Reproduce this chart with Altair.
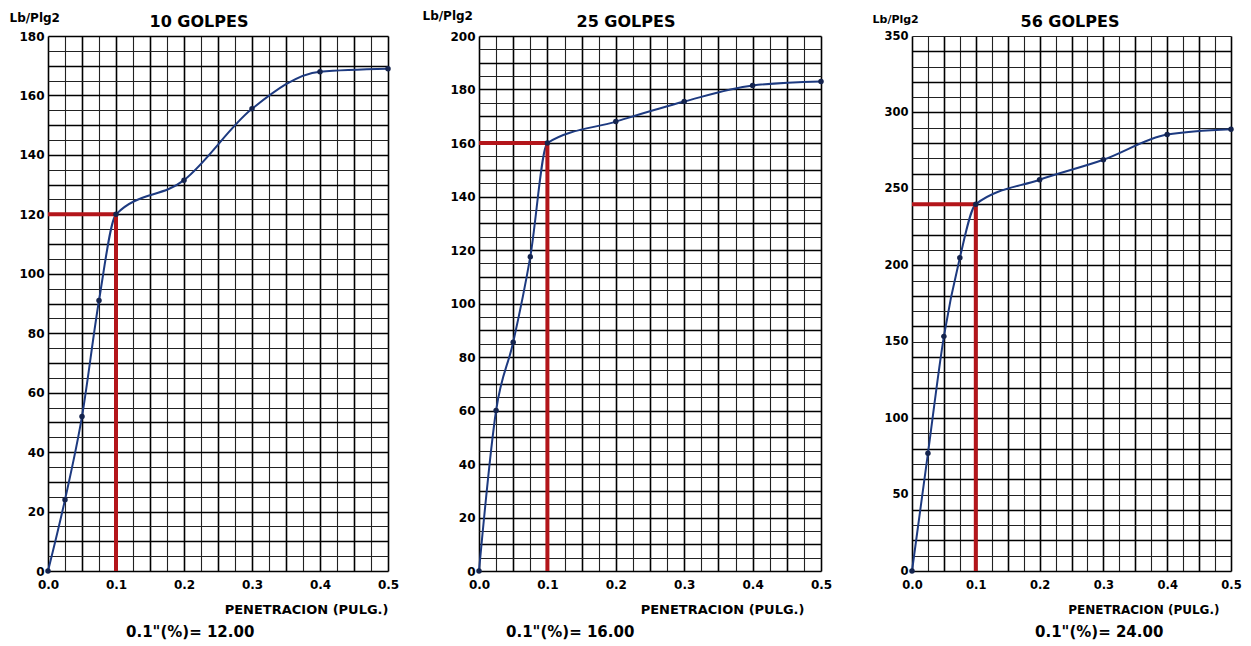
import altair as alt
import pandas as pd

# ---- data ----
penetration = [0.0, 0.025, 0.05, 0.075, 0.1, 0.2, 0.3, 0.4, 0.5]
load_10 = [0, 24, 52, 91, 120, 131.5, 155.5, 168, 169]
load_25 = [0, 60, 85.5, 117.5, 160, 168, 175.5, 181.5, 183]
load_56 = [0, 77, 153.5, 205, 240, 256, 269, 285.5, 289]

titles = ["10 GOLPES", "25 GOLPES", "56 GOLPES"]
ref_penetration = 0.1
ref_loads = [120, 160, 240]
cbr_values = ["12.00", "16.00", "24.00"]
y_max = [180, 200, 350]
y_label_step = [20, 20, 50]
y_grid_step = [5, 5, 10]

FONT = "DejaVu Sans"
RED = "#b3151a"
BLUE = "#1d3a80"
DOT = "#14234d"


def panel(load, title, ref_load, cbr, ymax, ystep, ygrid, width, height,
          title_x, lb_x, lb_y, lb_size, xt_x, xt_size, note_x, tick_size):
    df = pd.DataFrame({"x": penetration, "y": load})
    xvals = [round(i * 0.025, 3) for i in range(21)]
    yvals = list(range(0, ymax + 1, ygrid))

    xaxis = alt.Axis(
        values=xvals,
        labelExpr="round(datum.value*1000) % 100 == 0 ? format(datum.value, '.1f') : ''",
        title="PENETRACION (PULG.)",
        titleFont=FONT, titleFontSize=xt_size, titleFontWeight="bold", titleColor="black",
        titleAlign="right", titleBaseline="middle", titleX=xt_x, titleY=38, titleAngle=0,
        labelFont=FONT, labelFontSize=tick_size, labelFontWeight="bold", labelColor="black",
        labelPadding=8, labelFlush=False, labelOverlap=False,
        ticks=False, domain=False, grid=True,
        gridColor={"condition": {"test": "round(datum.value*1000) % 50 == 0", "value": "#000000"},
                   "value": "#222222"},
        gridWidth={"condition": {"test": "round(datum.value*1000) % 50 == 0", "value": 1.6},
                   "value": 1.1},
        gridOpacity=1,
    )
    yaxis = alt.Axis(
        values=yvals,
        labelExpr=f"datum.value % {ystep} == 0 ? datum.label : ''",
        title="Lb/Plg2",
        titleFont=FONT, titleFontSize=lb_size, titleFontWeight="bold", titleColor="black",
        titleAngle=0, titleAlign="left", titleBaseline="middle", titleX=lb_x, titleY=lb_y,
        labelFont=FONT, labelFontSize=tick_size, labelFontWeight="bold", labelColor="black",
        labelPadding=4, labelFlush=False, labelOverlap=False,
        ticks=False, domain=False, grid=True,
        gridColor={"condition": {"test": f"datum.value % {2 * ygrid} == 0", "value": "#000000"},
                   "value": "#222222"},
        gridWidth={"condition": {"test": f"datum.value % {2 * ygrid} == 0", "value": 1.6},
                   "value": 1.1},
        gridOpacity=1,
    )
    xs = alt.Scale(domain=[0, 0.5], nice=False, zero=False)
    ys = alt.Scale(domain=[0, ymax], nice=False, zero=False)
    X = alt.X("x:Q", scale=xs, axis=xaxis)
    Y = alt.Y("y:Q", scale=ys, axis=yaxis)

    line = alt.Chart(df).mark_line(interpolate="monotone", color=BLUE, strokeWidth=2).encode(
        x=X, y=Y)
    pts = alt.Chart(df).mark_circle(size=30, color=DOT, opacity=1).encode(x=X, y=Y)

    h_df = pd.DataFrame({"x": [0.0], "x2": [ref_penetration], "y": [ref_load]})
    v_df = pd.DataFrame({"x": [ref_penetration], "y": [0], "y2": [ref_load]})
    hrule = alt.Chart(h_df).mark_rule(color=RED, strokeWidth=4).encode(
        x=X, x2="x2:Q", y=Y)
    vrule = alt.Chart(v_df).mark_rule(color=RED, strokeWidth=4).encode(
        x=X, y=Y, y2="y2:Q")

    note_df = pd.DataFrame({"t": ['0.1"(%)= ' + cbr]})
    note = alt.Chart(note_df).mark_text(
        align="left", baseline="middle", font=FONT, fontSize=15,
        fontWeight="bold", color="black").encode(
        x=alt.value(note_x), y=alt.value(height + 61), text="t:N")

    title_df = pd.DataFrame({"t": [title]})
    ttl = alt.Chart(title_df).mark_text(
        align="center", baseline="middle", font=FONT, fontSize=16,
        fontWeight="bold", color="black").encode(
        x=alt.value(title_x), y=alt.value(-14), text="t:N")

    return alt.layer(line, hrule, vrule, pts, note, ttl).properties(
        width=width, height=height)


H = 535
p1 = panel(load_10, titles[0], ref_loads[0], cbr_values[0], y_max[0], y_label_step[0],
           y_grid_step[0], 340, H, 151, -39, -19, 12, 340, 13, 78, 12)
p2 = panel(load_25, titles[1], ref_loads[1], cbr_values[1], y_max[1], y_label_step[1],
           y_grid_step[1], 342, H, 147, -57, -21, 12, 325, 13, 27, 12)
p3 = panel(load_56, titles[2], ref_loads[2], cbr_values[2], y_max[2], y_label_step[2],
           y_grid_step[2], 319, H, 158, -40, -17, 11, 307, 12, 123, 11.5)

chart = alt.hconcat(p1, p2, p3, spacing=91, bounds="flush").properties(
    padding={"left": 0, "top": 0, "right": 0, "bottom": 0}
).configure_view(
    stroke="black", strokeWidth=2.5
).configure(background="white")

chart.save("out.html", embed_options={"renderer": "svg", "actions": False})
